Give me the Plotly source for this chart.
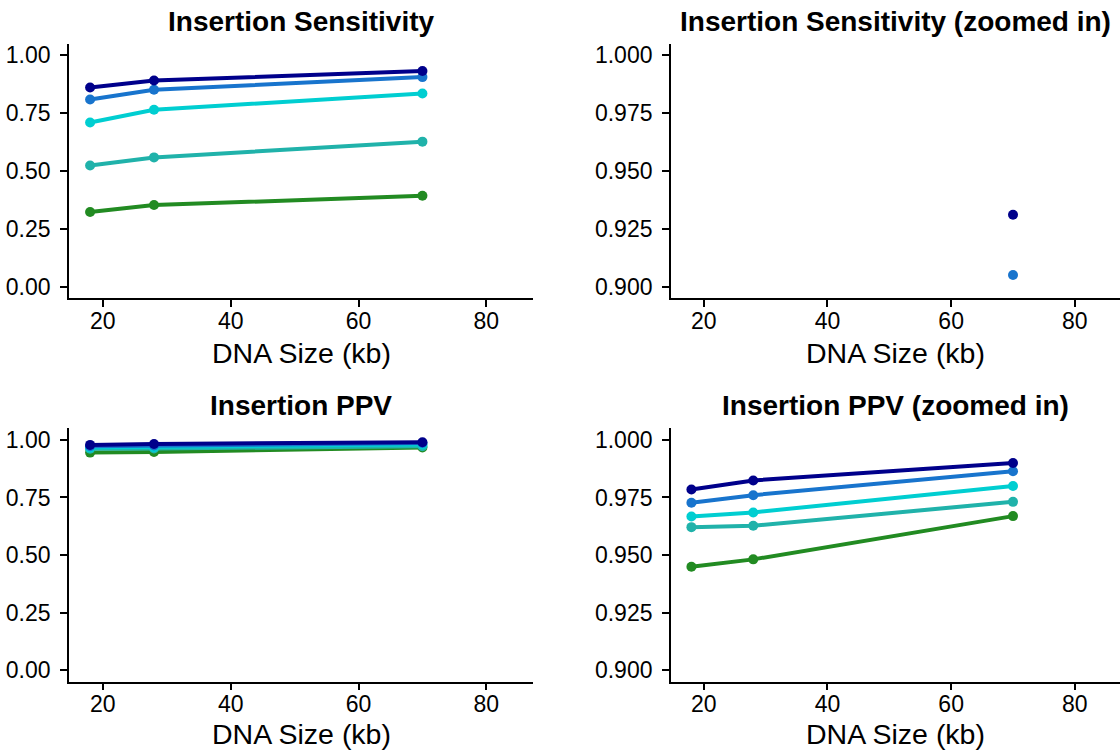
import plotly.graph_objects as go

# ---- data ----
dna_size = [18, 28, 70]
series_names = ["s1", "s2", "s3", "s4", "s5"]
series_colors = ["#00008B", "#1874CD", "#00CED1", "#20B2AA", "#228B22"]
sens_s1 = [0.860, 0.890, 0.931]
sens_s2 = [0.808, 0.850, 0.905]
sens_s3 = [0.709, 0.764, 0.834]
sens_s4 = [0.523, 0.558, 0.626]
sens_s5 = [0.322, 0.352, 0.392]
ppv_s1 = [0.9785, 0.9824, 0.9900]
ppv_s2 = [0.9727, 0.9760, 0.9864]
ppv_s3 = [0.9667, 0.9685, 0.9800]
ppv_s4 = [0.9621, 0.9627, 0.9731]
ppv_s5 = [0.9449, 0.9481, 0.9669]
sens = [sens_s1, sens_s2, sens_s3, sens_s4, sens_s5]
ppv = [ppv_s1, ppv_s2, ppv_s3, ppv_s4, ppv_s5]

panel_titles = ["Insertion Sensitivity", "Insertion Sensitivity (zoomed in)",
                "Insertion PPV", "Insertion PPV (zoomed in)"]
x_title = "DNA Size (kb)"
full_ticks = [0.0, 0.25, 0.5, 0.75, 1.0]
full_ticktext = ["0.00", "0.25", "0.50", "0.75", "1.00"]
zoom_ticks = [0.9, 0.925, 0.95, 0.975, 1.0]
zoom_ticktext = ["0.900", "0.925", "0.950", "0.975", "1.000"]
x_ticks = [20, 40, 60, 80]

W, H = 1120, 755
FONT = "Liberation Sans, Arial, sans-serif"

fig = go.Figure()


def px_x(p):
    return p / W


def px_y(p):
    return 1 - p / H


x_dom = [[px_x(69), px_x(533)], [px_x(671), 1.0]]
y_dom = [[px_y(298.3), px_y(42.7)], [px_y(683.25), px_y(429.15)]]

panels = [
    (sens, [0.0, 1.0], full_ticks, full_ticktext, 0, 0),
    (sens, [0.9, 1.0], zoom_ticks, zoom_ticktext, 1, 0),
    (ppv, [0.0, 1.0], full_ticks, full_ticktext, 0, 1),
    (ppv, [0.9, 1.0], zoom_ticks, zoom_ticktext, 1, 1),
]

for i, (data, lim, tv, tt, col, row) in enumerate(panels):
    n = i + 1
    xa = "x" if n == 1 else f"x{n}"
    ya = "y" if n == 1 else f"y{n}"
    lo, hi = lim
    span = hi - lo
    order = list(range(len(data)))[::-1]
    for k in order:
        vals = [v if lo <= v <= hi else None for v in data[k]]
        fig.add_trace(go.Scatter(
            x=dna_size, y=vals, mode="lines+markers", name=series_names[k],
            line=dict(color=series_colors[k], width=4),
            marker=dict(color=series_colors[k], size=10),
            connectgaps=False, showlegend=False, xaxis=xa, yaxis=ya))
    axis_common = dict(showline=True, linecolor="black", linewidth=1.8,
                       ticks="outside", ticklen=7, tickwidth=1.8, tickcolor="black",
                       showgrid=False, zeroline=False, mirror=False,
                       tickfont=dict(family=FONT, size=23, color="black"))
    xkey = "xaxis" if n == 1 else f"xaxis{n}"
    ykey = "yaxis" if n == 1 else f"yaxis{n}"
    fig.update_layout(**{
        xkey: dict(domain=x_dom[col], range=[14.7, 87.3], anchor=ya,
                   tickvals=x_ticks, ticklabelstandoff=-6, **axis_common),
        ykey: dict(domain=y_dom[row], range=[lo - 0.05 * span, hi + 0.05 * span],
                   anchor=xa, tickvals=tv, ticktext=tt, ticklabelstandoff=5,
                   **axis_common),
    })
    cx = (x_dom[col][0] + x_dom[col][1]) / 2
    title_y = [px_y(21), px_y(406)][row]
    xt_y = [px_y(353), px_y(736)][row]
    fig.add_annotation(text=f"<b>{panel_titles[i]}</b>", x=cx, y=title_y,
                       xref="paper", yref="paper", xanchor="center", yanchor="middle",
                       showarrow=False, font=dict(family=FONT, size=28, color="black"))
    fig.add_annotation(text=x_title, x=cx, y=xt_y,
                       xref="paper", yref="paper", xanchor="center", yanchor="middle",
                       showarrow=False, font=dict(family=FONT, size=28.5, color="black"))

fig.update_layout(width=W, height=H, margin=dict(l=0, r=0, t=0, b=0),
                  plot_bgcolor="white", paper_bgcolor="white", showlegend=False)

fig.write_html("out.html", config={"displayModeBar": False},
               post_script="document.body.style.margin='0px';document.body.style.overflow='hidden';")
